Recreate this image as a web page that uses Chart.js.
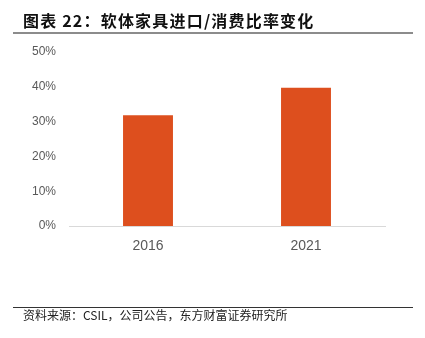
<!DOCTYPE html>
<html>
<head>
<meta charset="utf-8">
<script src="https://cdn.jsdelivr.net/npm/chart.js@4/dist/chart.umd.min.js"></script>
<style>
  body { margin: 0; background: #fff; }
  #wrap { position: relative; width: 425px; height: 338px; overflow: hidden; }
  #chart { position: absolute; left: 0; top: 0; }
  .title { position: absolute; left: 23px; top: 9px; font: bold 16px "Noto Sans CJK SC", sans-serif;
           letter-spacing: 1.2px; color: #111; white-space: nowrap; line-height: 22px; }
  .rule-top { position: absolute; left: 13px; top: 32px; width: 400px; height: 2px; background: #8c8c8c; }
  .rule-bot { position: absolute; left: 13px; top: 307px; width: 400px; height: 1px; background: #333; }
  .source { position: absolute; left: 23px; top: 306px; font: 12px "Noto Sans CJK SC", sans-serif;
            color: #222; white-space: nowrap; line-height: 17px; }
</style>
</head>
<body>
<div id="wrap">
  <canvas id="chart" width="425" height="338"></canvas>
  <div class="title">图表 22：软体家具进口/消费比率变化</div>
  <div class="rule-top"></div>
  <div class="rule-bot"></div>
  <div class="source">资料来源：CSIL，公司公告，东方财富证券研究所</div>
</div>
<script>
/* 软体家具进口/消费比率 (%) */
const years = ['2016', '2021'];
const ratio = [31.8, 39.7];
const yTicks = [0, 10, 20, 30, 40, 50];

const ctx = document.getElementById('chart').getContext('2d');

new Chart(ctx, {
  type: 'bar',
  data: {
    labels: years,
    datasets: [{
      data: ratio,
      backgroundColor: '#DD4F1E',
      categoryPercentage: 1,
      barPercentage: 0.316,
    }]
  },
  options: {
    responsive: false,
    animation: false,
    layout: { padding: { top: 52, right: 40, left: 0, bottom: 0 } },
    plugins: { legend: { display: false }, tooltip: { enabled: false } },
    scales: {
      x: {
        grid: { display: false, drawTicks: false },
        border: { color: '#d9d9d9', width: 1 },
        ticks: { color: '#595959', padding: 12, font: { family: 'Liberation Sans', size: 14 } },
        afterFit: (s) => { s.height = 112; }
      },
      y: {
        min: yTicks[0],
        max: yTicks[yTicks.length - 1],
        afterBuildTicks: (s) => { s.ticks = yTicks.map(v => ({ value: v })); },
        grid: { display: false, drawTicks: false },
        border: { display: false },
        ticks: {
          color: '#595959',
          padding: 13,
          font: { family: 'Liberation Sans', size: 12 },
          callback: (v) => v + '%'
        },
        afterFit: (s) => { s.width = 69; }
      }
    }
  }
});
</script>
</body>
</html>
